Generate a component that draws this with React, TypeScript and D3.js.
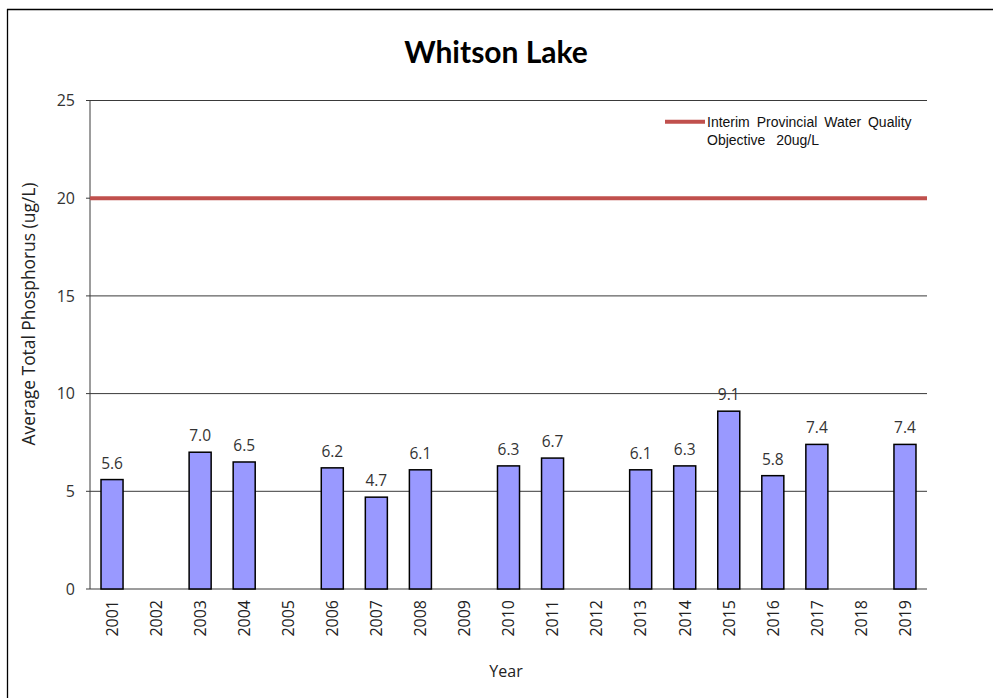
import React from "react";
import * as d3 from "d3";

const years = ["2001","2002","2003","2004","2005","2006","2007","2008","2009","2010","2011","2012","2013","2014","2015","2016","2017","2018","2019"];
const phosphorus: (number | null)[] = [5.6, null, 7.0, 6.5, null, 6.2, 4.7, 6.1, null, 6.3, 6.7, null, 6.1, 6.3, 9.1, 5.8, 7.4, null, 7.4];
const yTicks = [0, 5, 10, 15, 20, 25];
const objectiveValue = 20;
const title = "Whitson Lake";
const yTitle = "Average Total Phosphorus (ug/L)";
const xTitle = "Year";
const legendLines = ["Interim Provincial Water Quality", "Objective  20ug/L"];

const W = 993, H = 698;
const left = 90, right = 927, top = 100.5, bottom = 589;
const bodyFont = "'Open Sans', Lato, sans-serif";
const titleFont = "Lato, 'Open Sans', sans-serif";

export default function App() {
  const x = d3.scaleBand<string>().domain(years).range([left, right]).paddingInner(0.5).paddingOuter(0.25);
  const y = d3.scaleLinear().domain([0, 25]).range([bottom, top]);
  return (
    <div style={{ position: "absolute", left: 0, top: 0, width: W, height: H, background: "#fff" }}>
      <svg width={W} height={H} style={{ display: "block" }}>
        <rect x={0} y={0} width={W} height={H} fill="#fff" />
        <line x1={7} x2={W} y1={9.5} y2={9.5} stroke="#000" strokeWidth={1.3} />
        <line x1={7.5} x2={7.5} y1={9} y2={H} stroke="#000" strokeWidth={1.3} />
        <text x={496} y={63} textAnchor="middle" fontFamily={titleFont} fontWeight={700} fontSize={30} fill="#000">{title}</text>
        {yTicks.map(t => (
          <g key={t}>
            <line x1={left - 4} x2={right} y1={y(t)} y2={y(t)} stroke="#3a3a3a" strokeWidth={1} />
            <text x={75} y={y(t)} dy="0.36em" textAnchor="end" fontFamily={bodyFont} fontSize={16} fill="#333">{t}</text>
          </g>
        ))}
        <line x1={left} x2={left} y1={top} y2={bottom} stroke="#3a3a3a" strokeWidth={1} />
        {years.map((yr, i) => {
          const v = phosphorus[i];
          const bx = x(yr)!;
          const cx = bx + x.bandwidth() / 2;
          return (
            <g key={yr}>
              {v !== null && (
                <>
                  <rect x={bx} y={y(v)} width={x.bandwidth()} height={bottom - y(v)} fill="#9999ff" stroke="#000" strokeWidth={1.5} />
                  <text x={cx} y={y(v) - 11} textAnchor="middle" fontFamily={bodyFont} fontSize={15.5} fill="#333">{v.toFixed(1)}</text>
                </>
              )}
              <text transform={`translate(${cx + 5.8},${600}) rotate(-90)`} textAnchor="end" fontFamily={bodyFont} fontSize={16} fill="#222">{yr}</text>
            </g>
          );
        })}
        <line x1={left} x2={right} y1={y(objectiveValue)} y2={y(objectiveValue)} stroke="#c0504d" strokeWidth={4} />
        <line x1={665} x2={705} y1={121.7} y2={121.7} stroke="#c0504d" strokeWidth={4} />
        {legendLines.map((l, i) => (
          <text key={i} x={707} y={127.3 + i * 17.7} fontFamily="'Liberation Sans', Arial, sans-serif" fontSize={14} wordSpacing={i === 0 ? 3 : 1.5} fill="#111" style={{ whiteSpace: "pre" }}>{l}</text>
        ))}
        <text transform={`translate(35,314) rotate(-90)`} textAnchor="middle" fontFamily={bodyFont} fontSize={17.4} fill="#222">{yTitle}</text>
        <text x={506} y={677} textAnchor="middle" fontFamily={bodyFont} fontSize={16} fill="#222">{xTitle}</text>
      </svg>
    </div>
  );
}
